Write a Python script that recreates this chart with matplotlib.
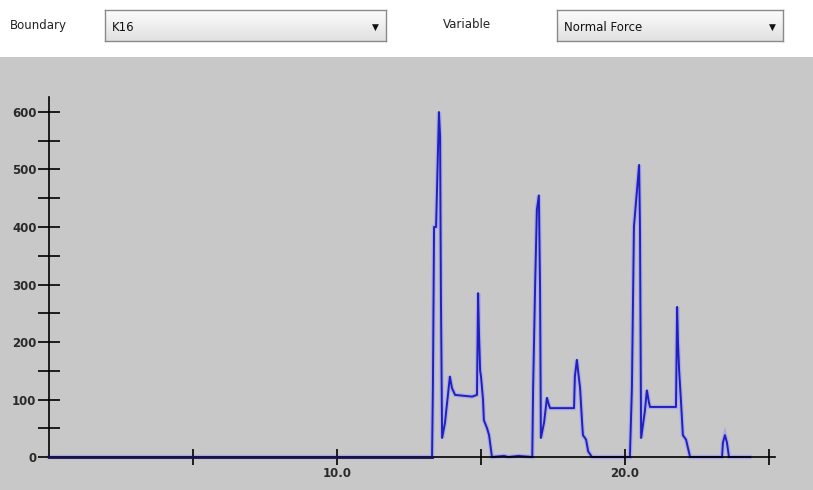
import numpy as np
import matplotlib
matplotlib.use("Agg")
import matplotlib.pyplot as plt
from matplotlib.ticker import FixedLocator

# ---------------------------------------------------------------
# data (time, normal force)
time = [0.0, 13.30, 13.33, 13.37, 13.44, 13.54, 13.58, 13.61, 13.65, 13.75,
        13.92, 13.99, 14.10, 14.69, 14.86, 14.90, 14.93, 14.97, 15.00, 15.07,
        15.10, 15.21, 15.28, 15.38, 15.80, 15.95, 16.30, 16.78,
        16.81, 16.88, 16.94, 17.01, 17.05, 17.08, 17.19, 17.29, 17.36, 17.40,
        18.23, 18.26, 18.33, 18.37, 18.44, 18.51, 18.54, 18.65, 18.72, 18.85,
        20.17, 20.24, 20.31, 20.49, 20.52, 20.56, 20.69, 20.76, 20.83, 20.87,
        21.77, 21.81, 21.84, 21.88, 21.94, 22.01, 22.12, 22.26,
        23.37, 23.40, 23.47, 23.54, 23.61, 24.34]
force = [0, 0, 120, 400, 400, 600, 557, 270, 33, 60,
         140, 120, 108, 105, 108, 285, 216, 150, 140, 100,
         64, 50, 38, 0, 2, 0, 2, 0,
         120, 300, 430, 455, 296, 33, 60, 103, 90, 85,
         85, 140, 169, 150, 120, 60, 38, 30, 10, 0,
         0, 120, 400, 508, 400, 33, 80, 116, 95, 87,
         87, 261, 200, 150, 100, 38, 30, 0,
         0, 25, 38, 25, 0, 0]

y_ticks = [0, 100, 200, 300, 400, 500, 600]
y_minor = [50, 150, 250, 350, 450, 550]
x_ticks = [5, 10, 15, 20, 25]
x_labels = ["", "10.0", "", "20.0", ""]

W, H = 813, 490
fig = plt.figure(figsize=(W / 100, H / 100), dpi=100, facecolor="white")


def box(x0, y0, x1, y1):
    # pixel box (top-left origin) -> figure fraction rect
    return [x0 / W, 1 - y1 / H, (x1 - x0) / W, (y1 - y0) / H]


# ---------------------------------------------------------------
# plot area
ax = fig.add_axes(box(0, 57, W, H))
ax.set_facecolor("#c8c8c8")
ax.set_xlim((0 - 49) / 28.8, (W - 49) / 28.8)
ax.set_ylim((457 - H) / 0.575, (457 - 57) / 0.575)

ax.plot(time, force, color="#9a9af0", lw=3.2, alpha=0.6, zorder=1,
        solid_joinstyle="miter")
ax.plot(time, force, color="#2020c0", lw=1.4, zorder=2)
ax.plot([0, 13.3], [0, 0], color="#15154a", lw=2.0, zorder=3)

for s in ["top", "right"]:
    ax.spines[s].set_visible(False)
ax.spines["left"].set_position(("data", 0))
ax.spines["bottom"].set_position(("data", 0))
ax.spines["left"].set_bounds(0, 626)
ax.spines["bottom"].set_bounds(0, 25.2)
ax.spines["left"].set_color("black")
ax.spines["bottom"].set_color("black")
ax.spines["left"].set_linewidth(1.2)
ax.spines["bottom"].set_linewidth(1.2)

ax.yaxis.set_major_locator(FixedLocator(y_ticks))
ax.yaxis.set_minor_locator(FixedLocator(y_minor))
ax.set_yticklabels([str(v) for v in y_ticks])
ax.xaxis.set_major_locator(FixedLocator(x_ticks))
ax.set_xticklabels(x_labels)

ax.tick_params(axis="y", which="both", direction="inout", length=16,
               width=1.2, color="black", pad=1, labelsize=8.5,
               labelcolor="#2a2a2a")
ax.tick_params(axis="x", which="both", direction="inout", length=11,
               width=1.2, color="black", pad=2, labelsize=8.5,
               labelcolor="#2a2a2a")
for lab in ax.get_xticklabels() + ax.get_yticklabels():
    lab.set_fontweight("bold")

# ---------------------------------------------------------------
# toolbar above the plot
fig.text(10 / W, 1 - 26 / H, "Boundary", fontsize=8.5, color="#222222",
         va="center", ha="left")
fig.text(443 / W, 1 - 24 / H, "Variable", fontsize=8.5, color="#222222",
         va="center", ha="left")

top = np.array([0.99, 0.99, 0.99])
bottom = np.array([0.88, 0.88, 0.88])
frac = np.linspace(0, 1, 40).reshape(-1, 1, 1)
grad = top * (1 - frac) + bottom * frac
for (x0, x1, txt) in [(105, 386, "K16"), (557, 783, "Normal Force")]:
    cb = fig.add_axes(box(x0, 10, x1, 41))
    cb.imshow(grad, aspect="auto", extent=[0, 1, 0, 1])
    cb.set_xticks([])
    cb.set_yticks([])
    for s in cb.spines.values():
        s.set_color("#8a8a8a")
        s.set_linewidth(1.0)
    cb.text(7 / (x1 - x0), 0.45, txt, transform=cb.transAxes, fontsize=8.5,
            color="#111111", va="center", ha="left")
    cb.text(1 - 11 / (x1 - x0), 0.45, "\u25bc", transform=cb.transAxes,
            fontsize=6.5, color="#111111", va="center", ha="center")

fig.savefig("out.png", dpi=100, facecolor="white")
